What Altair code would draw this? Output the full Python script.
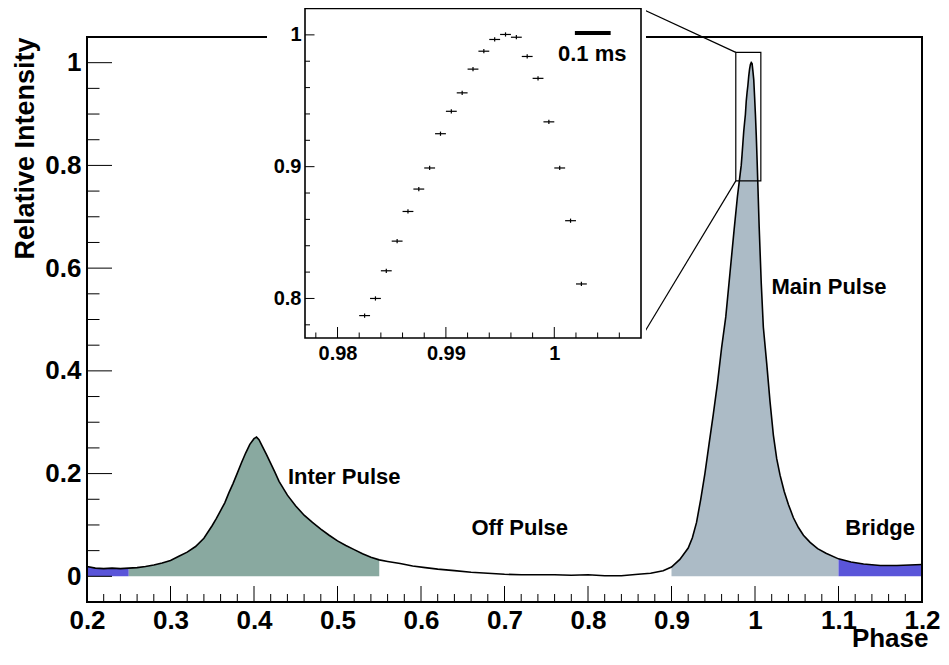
import altair as alt
import pandas as pd

FONT = "Liberation Sans"

# ---------------- data ----------------
# pulse profile, rising part up to the inset window
PHASE_A = [0.200, 0.210, 0.220, 0.230, 0.240, 0.250, 0.260, 0.270, 0.280, 0.290,
           0.300, 0.310, 0.320, 0.330, 0.340, 0.350, 0.355, 0.360, 0.365, 0.370,
           0.375, 0.380, 0.385, 0.390, 0.395, 0.400, 0.403, 0.406, 0.410, 0.415,
           0.420, 0.425, 0.430, 0.440, 0.450, 0.460, 0.470, 0.480, 0.490, 0.500,
           0.510, 0.520, 0.530, 0.540, 0.550, 0.560, 0.575, 0.590, 0.605, 0.620,
           0.640, 0.660, 0.680, 0.700, 0.720, 0.740, 0.760, 0.780, 0.800, 0.820,
           0.840, 0.860, 0.875, 0.890, 0.900, 0.910, 0.920, 0.925, 0.930, 0.935,
           0.940, 0.945, 0.950, 0.955, 0.960, 0.965, 0.970, 0.975, 0.979]
VALUE_A = [0.019, 0.016, 0.015, 0.016, 0.015, 0.016, 0.017, 0.019, 0.022, 0.026,
           0.031, 0.039, 0.047, 0.058, 0.074, 0.099, 0.113, 0.128, 0.143, 0.163,
           0.181, 0.201, 0.221, 0.240, 0.257, 0.268, 0.271, 0.266, 0.253, 0.237,
           0.220, 0.203, 0.185, 0.158, 0.137, 0.119, 0.105, 0.092, 0.080, 0.069,
           0.060, 0.052, 0.044, 0.037, 0.032, 0.029, 0.025, 0.020, 0.017, 0.014,
           0.011, 0.008, 0.006, 0.004, 0.003, 0.003, 0.003, 0.002, 0.003, 0.001,
           0.001, 0.004, 0.006, 0.011, 0.018, 0.033, 0.055, 0.075, 0.105, 0.150,
           0.200, 0.258, 0.315, 0.375, 0.445, 0.505, 0.590, 0.675, 0.740]

# fine bins around the main-pulse peak (inset)
INSET_PHASE = [0.9825, 0.9835, 0.9845, 0.9855, 0.9865, 0.9875, 0.9885, 0.9895,
               0.9905, 0.9915, 0.9925, 0.9935, 0.9945, 0.9955, 0.9965, 0.9975,
               0.9985, 0.9995, 1.0005, 1.0015, 1.0025]
INSET_VALUE = [0.787, 0.800, 0.821, 0.8435, 0.866, 0.883, 0.899, 0.925,
               0.942, 0.956, 0.974, 0.9876, 0.9965, 1.0003, 0.9982, 0.9836,
               0.967, 0.934, 0.899, 0.859, 0.811]
INSET_ERR = [0.0016, 0.0016, 0.0016, 0.0016, 0.0016, 0.0016, 0.0016, 0.0016,
             0.0016, 0.0016, 0.0016, 0.0016, 0.0016, 0.0016, 0.0016, 0.0016,
             0.0016, 0.0016, 0.0016, 0.0016, 0.0016]
INSET_HALF_BIN = 0.0005

# falling part of the main pulse and the bridge
PHASE_B = [1.005, 1.0075, 1.010, 1.014, 1.018, 1.022, 1.026, 1.030, 1.035, 1.040,
           1.046, 1.052, 1.058, 1.066, 1.075, 1.085, 1.100, 1.115, 1.130, 1.150,
           1.170, 1.185, 1.200]
VALUE_B = [0.680, 0.570, 0.485, 0.415, 0.340, 0.275, 0.229, 0.197, 0.165, 0.140,
           0.114, 0.095, 0.080, 0.066, 0.054, 0.045, 0.034, 0.028, 0.024, 0.021,
           0.021, 0.022, 0.023]

# shaded phase regions
REGION_LO = [0.20, 0.25, 0.90, 1.10]
REGION_HI = [0.25, 0.55, 1.10, 1.20]
REGION_COLOR = ["#5a55d9", "#89a9a0", "#acbbc6", "#5a55d9"]

# region labels
LABELS = ["Inter Pulse", "Off Pulse", "Main Pulse", "Bridge"]
LABEL_X = [0.4407, 0.6604, 1.0198, 1.1082]
LABEL_Y = [0.1788, 0.0801, 0.5496, 0.0801]

# axes
X_DOMAIN = [0.2, 1.2]
Y_DOMAIN = [-0.05, 1.05]
X_TICKS = [0.2, 0.3, 0.4, 0.5, 0.6, 0.7, 0.8, 0.9, 1.0, 1.1, 1.2]
Y_TICKS = [0.0, 0.2, 0.4, 0.6, 0.8, 1.0]
X_MINOR = [round(0.2 + 0.02 * i, 3) for i in range(51) if i % 5 != 0]
Y_MINOR = [round(-0.05 + 0.05 * i, 3) for i in range(23) if (i - 1) % 4 != 0]

INSET_X_DOMAIN = [0.977, 1.008]
INSET_Y_DOMAIN = [0.77, 1.02]
INSET_X_TICKS = [0.98, 0.99, 1.0]
INSET_Y_TICKS = [0.8, 0.9, 1.0]
INSET_X_MINOR = [0.978, 0.982, 0.984, 0.986, 0.988, 0.992, 0.994, 0.996, 0.998,
                 1.002, 1.004, 1.006]
INSET_Y_MINOR = [0.78, 0.82, 0.84, 0.86, 0.88, 0.92, 0.94, 0.96, 0.98]

# zoom window drawn on the main plot
ZOOM_X = [0.977, 1.007]
ZOOM_Y = [0.77, 1.02]

# scale bar in the inset (0.1 ms)
SCALEBAR_X = [1.0019, 1.0052]
SCALEBAR_Y = 1.0015
SCALEBAR_TEXT_X = 1.0035
SCALEBAR_TEXT_Y = 0.9803

# ---------------- layout ----------------
W, H = 835, 565
PAD_TOP, PAD_BOTTOM, PAD_LEFT, PAD_RIGHT = 29, 49, 79, 19
INSET_XR = [218, 554]
INSET_YR = [301, -28.5]
PAD = dict(x=180, x2=559, y=-40, y2=328)

profile = pd.DataFrame({"x": PHASE_A + INSET_PHASE + PHASE_B,
                        "y": VALUE_A + INSET_VALUE + VALUE_B})
inset = pd.DataFrame({"ix": INSET_PHASE, "iy": INSET_VALUE, "err": INSET_ERR})
one = pd.DataFrame({"a": [0]})

label_style = dict(labelFont=FONT, labelFontWeight="bold", labelColor="black",
                   ticks=False, tickSize=0, domain=False, grid=False,
                   labelFlush=False, zindex=1, format="~g")

xs = alt.Scale(domain=X_DOMAIN, nice=False, zero=False)
ys = alt.Scale(domain=Y_DOMAIN, nice=False, zero=False)
xaxis = alt.Axis(values=X_TICKS, labelFontSize=26, labelPadding=5,
                 title="Phase", titleX=841, titleY=44, titleAlign="right",
                 titleBaseline="alphabetic", titleFont=FONT, titleFontSize=26,
                 titleFontWeight="bold", titleColor="black", **label_style)
yaxis = alt.Axis(values=Y_TICKS, labelFontSize=26, labelPadding=6,
                 title="Relative Intensity", titleX=-54, titleY=0, titleAngle=270,
                 titleAlign="right", titleBaseline="alphabetic", titleFont=FONT,
                 titleFontSize=27, titleFontWeight="bold", titleColor="black",
                 **label_style)


def X(f="x"):
    return alt.X(f, type="quantitative", scale=xs, axis=xaxis)


def Y(f="y"):
    return alt.Y(f, type="quantitative", scale=ys, axis=yaxis)


main_layers = []
for lo, hi, col in zip(REGION_LO, REGION_HI, REGION_COLOR):
    main_layers.append(
        alt.Chart(profile)
        .transform_filter((alt.datum.x >= lo - 1e-9) & (alt.datum.x <= hi + 1e-9))
        .mark_area(color=col, opacity=1)
        .encode(x=X(), y=Y(), y2=alt.datum(0))
    )

main_layers.append(
    alt.Chart(profile).mark_line(color="black", strokeWidth=1.6).encode(x=X(), y=Y())
)

# inward ticks
main_layers.append(alt.Chart(pd.DataFrame({"x": X_TICKS})).mark_rule(color="black", strokeWidth=1)
                   .encode(x=X(), y=alt.value(H), y2=alt.value(H - 16)))
main_layers.append(alt.Chart(pd.DataFrame({"x": X_MINOR})).mark_rule(color="black", strokeWidth=1)
                   .encode(x=X(), y=alt.value(H), y2=alt.value(H - 8)))
main_layers.append(alt.Chart(pd.DataFrame({"y": Y_TICKS})).mark_rule(color="black", strokeWidth=1)
                   .encode(y=Y(), x=alt.value(0), x2=alt.value(25)))
main_layers.append(alt.Chart(pd.DataFrame({"y": Y_MINOR})).mark_rule(color="black", strokeWidth=1)
                   .encode(y=Y(), x=alt.value(0), x2=alt.value(12.5)))

# frame
frame = pd.DataFrame({
    "x": [X_DOMAIN[0], X_DOMAIN[0], X_DOMAIN[1], X_DOMAIN[0]],
    "x2": [X_DOMAIN[0], X_DOMAIN[1], X_DOMAIN[1], X_DOMAIN[1]],
    "y": [Y_DOMAIN[0], Y_DOMAIN[0], Y_DOMAIN[0], Y_DOMAIN[1]],
    "y2": [Y_DOMAIN[1], Y_DOMAIN[0], Y_DOMAIN[1], Y_DOMAIN[1]],
})
main_layers.append(alt.Chart(frame).mark_rule(color="black", strokeWidth=2, strokeCap="square")
                   .encode(x=X(), x2="x2", y=Y(), y2="y2"))

# zoom box
box = pd.DataFrame({"x": [ZOOM_X[0]], "x2": [ZOOM_X[1]], "y": [ZOOM_Y[0]], "y2": [ZOOM_Y[1]]})
main_layers.append(alt.Chart(box).mark_rect(fill="transparent", stroke="black", strokeWidth=1.2)
                   .encode(x=X(), x2="x2", y=Y(), y2="y2"))

# connectors from zoom box to inset corners
main_layers.append(alt.Chart(pd.DataFrame({"x": [ZOOM_X[0]], "y": [ZOOM_Y[1]]}))
                   .mark_rule(color="black", strokeWidth=1.2)
                   .encode(x=X(), y=Y(), x2=alt.value(INSET_XR[1]), y2=alt.value(INSET_YR[1])))
main_layers.append(alt.Chart(pd.DataFrame({"x": [ZOOM_X[0]], "y": [ZOOM_Y[0]]}))
                   .mark_rule(color="black", strokeWidth=1.2)
                   .encode(x=X(), y=Y(), x2=alt.value(INSET_XR[1]), y2=alt.value(INSET_YR[0])))

# region labels
ann = pd.DataFrame({"x": LABEL_X, "y": LABEL_Y, "label": LABELS})
main_layers.append(alt.Chart(ann).mark_text(font=FONT, fontSize=22, fontWeight="bold",
                                            color="black", align="left", baseline="alphabetic")
                   .encode(x=X(), y=Y(), text="label"))

main = alt.layer(*main_layers)

# ---------------- inset ----------------
ixs = alt.Scale(domain=INSET_X_DOMAIN, range=INSET_XR, nice=False, zero=False)
iys = alt.Scale(domain=INSET_Y_DOMAIN, range=INSET_YR, nice=False, zero=False)
ixaxis = alt.Axis(orient="bottom", offset=-(H - INSET_YR[0]),
                  values=INSET_X_TICKS, labelFontSize=20, labelPadding=5, title=None,
                  **label_style)
iyaxis = alt.Axis(orient="left", offset=-INSET_XR[0], values=INSET_Y_TICKS,
                  labelFontSize=20, labelPadding=4, title=None, **label_style)


def IX(f="ix"):
    return alt.X(f, type="quantitative", scale=ixs, axis=ixaxis)


def IY(f="iy"):
    return alt.Y(f, type="quantitative", scale=iys, axis=iyaxis)


inset_layers = []
# white pad behind the inset
inset_layers.append(alt.Chart(one).mark_rect(fill="white", stroke=None)
                    .encode(x=alt.value(PAD["x"]), x2=alt.value(PAD["x2"]),
                            y=alt.value(PAD["y"]), y2=alt.value(PAD["y2"])))
iframe = pd.DataFrame({"ix": [INSET_X_DOMAIN[0]], "ix2": [INSET_X_DOMAIN[1]],
                       "iy": [INSET_Y_DOMAIN[0]], "iy2": [INSET_Y_DOMAIN[1]]})
inset_layers.append(alt.Chart(iframe).mark_rect(fill="white", stroke="black", strokeWidth=1.6)
                    .encode(x=IX(), x2="ix2", y=IY(), y2="iy2"))
inset_layers.append(alt.Chart(pd.DataFrame({"ix": INSET_X_TICKS})).mark_rule(color="black")
                    .encode(x=IX(), y=alt.value(INSET_YR[0]), y2=alt.value(INSET_YR[0] - 11)))
inset_layers.append(alt.Chart(pd.DataFrame({"ix": INSET_X_MINOR})).mark_rule(color="black")
                    .encode(x=IX(), y=alt.value(INSET_YR[0]), y2=alt.value(INSET_YR[0] - 5.5)))
inset_layers.append(alt.Chart(pd.DataFrame({"iy": INSET_Y_TICKS})).mark_rule(color="black")
                    .encode(y=IY(), x=alt.value(INSET_XR[0]), x2=alt.value(INSET_XR[0] + 9.5)))
inset_layers.append(alt.Chart(pd.DataFrame({"iy": INSET_Y_MINOR})).mark_rule(color="black")
                    .encode(y=IY(), x=alt.value(INSET_XR[0]), x2=alt.value(INSET_XR[0] + 5)))
# data points with error bars
inset_layers.append(alt.Chart(inset)
                    .transform_calculate(lo=f"datum.ix - {INSET_HALF_BIN}",
                                         hi=f"datum.ix + {INSET_HALF_BIN}")
                    .mark_rule(color="black", strokeWidth=1.2)
                    .encode(x=IX("lo"), x2="hi", y=IY()))
inset_layers.append(alt.Chart(inset)
                    .transform_calculate(elo="datum.iy - datum.err", ehi="datum.iy + datum.err")
                    .mark_rule(color="black", strokeWidth=1.2)
                    .encode(x=IX(), y=IY("elo"), y2="ehi"))
# scale bar
sb = pd.DataFrame({"ix": [SCALEBAR_X[0]], "ix2": [SCALEBAR_X[1]], "iy": [SCALEBAR_Y]})
inset_layers.append(alt.Chart(sb).mark_rule(color="black", strokeWidth=4)
                    .encode(x=IX(), x2="ix2", y=IY()))
sbt = pd.DataFrame({"ix": [SCALEBAR_TEXT_X], "iy": [SCALEBAR_TEXT_Y], "t": ["0.1 ms"]})
inset_layers.append(alt.Chart(sbt).mark_text(font=FONT, fontSize=22, fontWeight="bold",
                                             color="black", align="center", baseline="alphabetic")
                    .encode(x=IX(), y=IY(), text="t"))

inset_chart = alt.layer(*inset_layers)

chart = (
    alt.layer(main, inset_chart)
    .resolve_scale(x="independent", y="independent")
    .properties(width=W, height=H,
                padding={"left": PAD_LEFT, "top": PAD_TOP, "right": PAD_RIGHT,
                         "bottom": PAD_BOTTOM},
                autosize=alt.AutoSizeParams(type="none"))
    .configure_view(stroke=None)
    .configure(background="white")
)

chart.save("out.html", embed_options={"renderer": "svg", "actions": False})
